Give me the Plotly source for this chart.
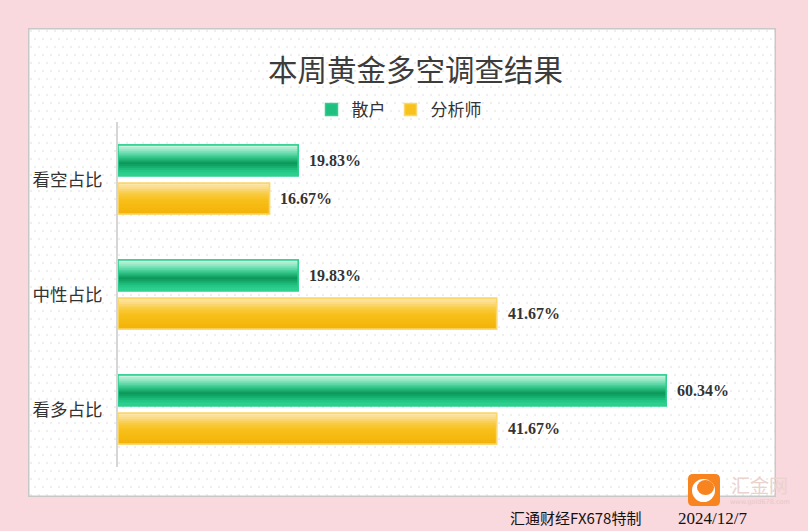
import base64
import plotly.graph_objects as go

# ---------------- data ----------------
categories = ["看空占比", "中性占比", "看多占比"]
retail = [19.83, 19.83, 60.34]      # 散户
analyst = [16.67, 41.67, 41.67]     # 分析师
series_names = ["散户", "分析师"]
title_text = "本周黄金多空调查结果"
footer_left = "汇通财经FX678特制"
footer_date = "2024/12/7"

# ---------------- geometry helpers ----------------
W, H = 808, 531
L, R, T, B = 118, 54, 122, 64
PW, PH = W - L - R, H - T - B


def px(x):
    return (x - L) / PW


def py(y):
    return (H - B - y) / PH


CJK = "Noto Sans CJK SC"
NUM = "Liberation Serif"


def hex2rgb(h):
    h = h.lstrip("#")
    return tuple(int(h[i:i + 2], 16) for i in (0, 2, 4))


def interp(stops, t):
    for (t0, c0), (t1, c1) in zip(stops[:-1], stops[1:]):
        if t0 <= t <= t1:
            a = (t - t0) / (t1 - t0) if t1 > t0 else 0
            r0, g0, b0 = hex2rgb(c0)
            r1, g1, b1 = hex2rgb(c1)
            return "rgb(%d,%d,%d)" % (r0 + (r1 - r0) * a, g0 + (g1 - g0) * a, b0 + (b1 - b0) * a)
    return stops[-1][1]


green_stops = [(0.0, "#d2f6e6"), (0.15, "#9ae9c8"), (0.32, "#4fd6a0"), (0.48, "#1fb475"),
               (0.58, "#0f965b"), (0.68, "#14a868"), (0.82, "#22c584"), (1.0, "#2fd28f")]
gold_stops = [(0.0, "#fde9b2"), (0.18, "#fbd97c"), (0.36, "#f9ca3c"), (0.55, "#f8c01a"),
              (0.8, "#f5b90f"), (1.0, "#f2b30b")]

NSTRIPE = 16
specs = [
    dict(name=series_names[0], vals=retail, off=-0.30, wid=0.268, mid="#1fbf7f",
         line="#2fd08e", stops=green_stops),
    dict(name=series_names[1], vals=analyst, off=0.032, wid=0.268, mid="#f8c21c",
         line="#fbd66a", stops=gold_stops),
]

fig = go.Figure()
for s in specs:
    n = len(categories)
    fig.add_trace(go.Bar(
        y=categories, x=s["vals"], orientation="h", name=s["name"],
        offset=s["off"], width=[s["wid"]] * n,
        marker=dict(color=s["mid"], line=dict(color=s["line"], width=1.5)),
        hoverinfo="skip", legendgroup=s["name"], showlegend=True))
    for k in range(NSTRIPE):
        f0 = k / NSTRIPE
        f1 = (k + 1) / NSTRIPE
        c = interp(s["stops"], (f0 + f1) / 2)
        extra = 0.012 if k < NSTRIPE - 1 else 0.0
        fig.add_trace(go.Bar(
            y=categories, x=s["vals"], orientation="h", name=s["name"],
            offset=s["off"] + f0 * s["wid"], width=[(f1 - f0) * s["wid"] + extra] * n,
            marker=dict(color=c, line=dict(width=0)),
            hoverinfo="skip", legendgroup=s["name"], showlegend=False))
    fig.add_trace(go.Bar(
        y=categories, x=s["vals"], orientation="h", name=s["name"],
        offset=s["off"], width=[s["wid"]] * n,
        marker=dict(color="rgba(0,0,0,0)", line=dict(color=s["line"], width=1.5)),
        hovertemplate="%{y} " + s["name"] + ": %{x:.2f}%<extra></extra>",
        legendgroup=s["name"], showlegend=False))

annotations = []
for s in specs:
    shift = -((s["off"] + s["wid"] / 2) * 115)
    for cat, v in zip(categories, s["vals"]):
        annotations.append(dict(
            x=v, y=cat, xref="x", yref="y", text=f"{v:.2f}%", showarrow=False,
            xanchor="left", yanchor="middle", xshift=9, yshift=shift,
            font=dict(family=NUM, size=16, color="#333333", weight="bold")))

annotations += [
    dict(x=px(415), y=py(68), xref="paper", yref="paper", text=title_text, showarrow=False,
         xanchor="center", yanchor="middle", font=dict(family=CJK, size=29.5, color="#3c3c3c")),
    dict(x=px(508), y=py(517), xref="paper", yref="paper", text=footer_left, showarrow=False,
         xanchor="left", yanchor="middle", font=dict(family=CJK, size=15, color="#111111")),
    dict(x=px(676), y=py(518), xref="paper", yref="paper", text=footer_date, showarrow=False,
         xanchor="left", yanchor="middle", font=dict(family=NUM, size=17, color="#111111")),
    dict(x=px(729), y=py(484), xref="paper", yref="paper", text="汇金网", showarrow=False,
         xanchor="left", yanchor="middle", font=dict(family=CJK, size=19, color="#ead2cd")),
    dict(x=px(760), y=py(502), xref="paper", yref="paper", text="www.gold678.com", showarrow=False,
         xanchor="center", yanchor="middle", font=dict(family="DejaVu Sans", size=6.5, color="#e6c9c4")),
]

# white panel with faint dot pattern (as an inline SVG image)
PX0, PY0, PX1, PY1 = 28, 28, 776, 497
pw, ph = PX1 - PX0, PY1 - PY0
svg = (f'<svg xmlns="http://www.w3.org/2000/svg" width="{pw}" height="{ph}" viewBox="0 0 {pw} {ph}">'
       '<defs><pattern id="d" width="16" height="16" patternUnits="userSpaceOnUse">'
       '<circle cx="3" cy="3" r="0.8" fill="#d9d9d9"/><circle cx="11" cy="3" r="0.8" fill="#d9d9d9"/>'
       '<circle cx="7" cy="11" r="0.8" fill="#d9d9d9"/><circle cx="15" cy="11" r="0.8" fill="#d9d9d9"/>'
       '</pattern></defs>'
       f'<rect x="0" y="0" width="{pw}" height="{ph}" fill="#ffffff"/>'
       f'<rect x="0" y="0" width="{pw}" height="{ph}" fill="url(#d)"/>'
       f'<rect x="0.75" y="0.75" width="{pw - 1.5}" height="{ph - 1.5}" fill="none" stroke="#c8c8c8" stroke-width="1.5"/>'
       '</svg>')
svg_uri = "data:image/svg+xml;base64," + base64.b64encode(svg.encode()).decode()

images = [dict(source=svg_uri, xref="paper", yref="paper", x=px(PX0), y=py(PY0),
               sizex=px(PX1) - px(PX0), sizey=py(PY0) - py(PY1), xanchor="left", yanchor="top",
               sizing="stretch", layer="below")]

shapes = []
x0, x1, y0, y1, r = 688, 720, 474, 506, 5
path = (f"M {px(x0 + r)},{py(y0)} L {px(x1 - r)},{py(y0)} Q {px(x1)},{py(y0)} {px(x1)},{py(y0 + r)} "
        f"L {px(x1)},{py(y1 - r)} Q {px(x1)},{py(y1)} {px(x1 - r)},{py(y1)} "
        f"L {px(x0 + r)},{py(y1)} Q {px(x0)},{py(y1)} {px(x0)},{py(y1 - r)} "
        f"L {px(x0)},{py(y0 + r)} Q {px(x0)},{py(y0)} {px(x0 + r)},{py(y0)} Z")
shapes.append(dict(type="path", xref="paper", yref="paper", path=path,
                   fillcolor="#f7841f", line=dict(width=0), layer="above"))
shapes.append(dict(type="circle", xref="paper", yref="paper", x0=px(692), x1=px(715), y0=py(502), y1=py(479),
                   fillcolor="white", line=dict(width=0), layer="above"))
shapes.append(dict(type="circle", xref="paper", yref="paper", x0=px(697), x1=px(714), y0=py(495), y1=py(480),
                   fillcolor="#f7841f", line=dict(width=0), layer="above"))

fig.update_layout(
    width=W, height=H,
    margin=dict(l=L, r=R, t=T, b=B, pad=0),
    paper_bgcolor="#f9d8de",
    plot_bgcolor="rgba(0,0,0,0)",
    barmode="overlay",
    showlegend=True,
    legend=dict(orientation="h", x=px(399), xanchor="center", y=py(110), yanchor="middle",
                font=dict(family=CJK, size=17, color="#333333"), bgcolor="rgba(0,0,0,0)",
                traceorder="normal", itemclick=False, itemdoubleclick=False, itemwidth=30),
    xaxis=dict(range=[0, 70], visible=False, showgrid=False, zeroline=False, fixedrange=True),
    yaxis=dict(categoryorder="array", categoryarray=categories, autorange="reversed",
               showgrid=False, zeroline=False, showline=True, linecolor="#d6d6d6", linewidth=2,
               ticks="", ticklabelstandoff=10,
               tickfont=dict(family=CJK, size=17.5, color="#333333"), fixedrange=True),
    annotations=annotations,
    shapes=shapes,
    images=images,
    hovermode="closest",
)

fig.write_html("out.html")
